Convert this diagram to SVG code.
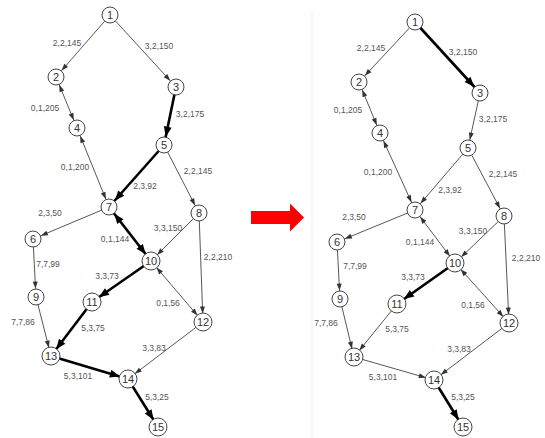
<svg xmlns="http://www.w3.org/2000/svg" width="545" height="438" viewBox="0 0 545 438">
<style>
.bg{fill:#ffffff}
.e{stroke:#444;stroke-width:0.9;fill:none}
.t{stroke:#000;stroke-width:2.6;fill:none}
.n circle{fill:#fff;stroke:#444;stroke-width:1}
.n text{font-family:"Liberation Sans",Arial,sans-serif;font-size:11px;fill:#333;text-anchor:middle}
.lb{font-family:"Liberation Sans",Arial,sans-serif;font-size:8.5px;fill:#555;text-anchor:middle}
</style>
<defs>
<marker id="a" markerUnits="userSpaceOnUse" markerWidth="20" markerHeight="10" refX="15.5" refY="2.5" orient="auto-start-reverse" overflow="visible"><path d="M0,0 L7,2.5 L0,5 z" fill="#333"/></marker>
<marker id="b" markerUnits="userSpaceOnUse" markerWidth="24" markerHeight="12" refX="18.5" refY="4" orient="auto-start-reverse" overflow="visible"><path d="M0,0 L10,4 L0,8 z" fill="#000"/></marker>
</defs>
<rect class="bg" width="545" height="438"/>
<line x1="312" y1="10" x2="312" y2="438" stroke="#eeeeee" stroke-width="1"/>
<g id="connectors">
<!-- left graph -->
<line class="e" x1="110" y1="15" x2="56" y2="77" marker-end="url(#a)"/>
<line class="e" x1="110" y1="15" x2="176" y2="87" marker-end="url(#a)"/>
<line class="e" x1="56" y1="77" x2="77" y2="128" marker-start="url(#a)" marker-end="url(#a)"/>
<line class="t" x1="176" y1="87" x2="164" y2="145" marker-end="url(#b)"/>
<line class="e" x1="77" y1="128" x2="109" y2="207" marker-start="url(#a)" marker-end="url(#a)"/>
<line class="t" x1="164" y1="145" x2="109" y2="207" marker-end="url(#b)"/>
<line class="e" x1="164" y1="145" x2="199" y2="213" marker-end="url(#a)"/>
<line class="e" x1="109" y1="207" x2="33" y2="239" marker-end="url(#a)"/>
<line class="t" x1="109" y1="207" x2="151" y2="261" marker-start="url(#b)" marker-end="url(#b)"/>
<line class="e" x1="199" y1="213" x2="151" y2="261" marker-end="url(#a)"/>
<line class="e" x1="199" y1="213" x2="203" y2="322" marker-end="url(#a)"/>
<line class="e" x1="33" y1="239" x2="36" y2="297" marker-end="url(#a)"/>
<line class="t" x1="151" y1="261" x2="92" y2="302" marker-end="url(#b)"/>
<line class="e" x1="151" y1="261" x2="203" y2="322" marker-start="url(#a)" marker-end="url(#a)"/>
<line class="e" x1="36" y1="297" x2="51" y2="356" marker-end="url(#a)"/>
<line class="t" x1="92" y1="302" x2="51" y2="356" marker-end="url(#b)"/>
<line class="e" x1="203" y1="322" x2="128" y2="379" marker-end="url(#a)"/>
<line class="t" x1="51" y1="356" x2="128" y2="379" marker-end="url(#b)"/>
<line class="t" x1="128" y1="379" x2="158" y2="427" marker-end="url(#b)"/>
<!-- right graph -->
<line class="e" x1="415" y1="22" x2="359" y2="82" marker-end="url(#a)"/>
<line class="t" x1="415" y1="22" x2="480" y2="93" marker-end="url(#b)"/>
<line class="e" x1="359" y1="82" x2="380" y2="133" marker-start="url(#a)" marker-end="url(#a)"/>
<line class="e" x1="480" y1="93" x2="468" y2="148" marker-end="url(#a)"/>
<line class="e" x1="380" y1="133" x2="415" y2="210" marker-start="url(#a)" marker-end="url(#a)"/>
<line class="e" x1="468" y1="148" x2="415" y2="210" marker-end="url(#a)"/>
<line class="e" x1="468" y1="148" x2="504" y2="216" marker-end="url(#a)"/>
<line class="e" x1="415" y1="210" x2="337" y2="242" marker-end="url(#a)"/>
<line class="e" x1="415" y1="210" x2="455" y2="263" marker-start="url(#a)" marker-end="url(#a)"/>
<line class="e" x1="504" y1="216" x2="455" y2="263" marker-end="url(#a)"/>
<line class="e" x1="504" y1="216" x2="509" y2="323" marker-end="url(#a)"/>
<line class="e" x1="337" y1="242" x2="340" y2="299" marker-end="url(#a)"/>
<line class="t" x1="455" y1="263" x2="397" y2="304" marker-end="url(#b)"/>
<line class="e" x1="455" y1="263" x2="509" y2="323" marker-start="url(#a)" marker-end="url(#a)"/>
<line class="e" x1="340" y1="299" x2="354" y2="357" marker-end="url(#a)"/>
<line class="e" x1="397" y1="304" x2="354" y2="357" marker-end="url(#a)"/>
<line class="e" x1="509" y1="323" x2="434" y2="380" marker-end="url(#a)"/>
<line class="e" x1="354" y1="357" x2="434" y2="380" marker-end="url(#a)"/>
<line class="t" x1="434" y1="380" x2="463" y2="427" marker-end="url(#b)"/>
</g>
<g id="labels">
<text class="lb" x="67" y="46">2,2,145</text>
<text class="lb" x="159" y="49">3,2,150</text>
<text class="lb" x="45" y="111">0,1,205</text>
<text class="lb" x="190" y="117">3,2,175</text>
<text class="lb" x="75" y="170">0,1,200</text>
<text class="lb" x="198" y="174">2,2,145</text>
<text class="lb" x="145" y="189">2,3,92</text>
<text class="lb" x="50" y="216">2,3,50</text>
<text class="lb" x="168" y="231">3,3,150</text>
<text class="lb" x="115" y="242">0,1,144</text>
<text class="lb" x="48" y="267">7,7,99</text>
<text class="lb" x="218" y="260">2,2,210</text>
<text class="lb" x="107" y="279">3,3,73</text>
<text class="lb" x="168" y="306">0,1,56</text>
<text class="lb" x="23" y="325">7,7,86</text>
<text class="lb" x="93" y="331">5,3,75</text>
<text class="lb" x="154" y="351">3,3,83</text>
<text class="lb" x="78" y="379">5,3,101</text>
<text class="lb" x="157" y="400">5,3,25</text>
<text class="lb" x="371" y="51">2,2,145</text>
<text class="lb" x="463" y="55">3,2,150</text>
<text class="lb" x="348" y="113">0,1,205</text>
<text class="lb" x="493" y="122">3,2,175</text>
<text class="lb" x="378" y="175">0,1,200</text>
<text class="lb" x="503" y="177">2,2,145</text>
<text class="lb" x="450" y="193">2,3,92</text>
<text class="lb" x="354" y="220">2,3,50</text>
<text class="lb" x="473" y="234">3,3,150</text>
<text class="lb" x="420" y="245">0,1,144</text>
<text class="lb" x="355" y="269">7,7,99</text>
<text class="lb" x="526" y="261">2,2,210</text>
<text class="lb" x="413" y="280">3,3,73</text>
<text class="lb" x="473" y="308">0,1,56</text>
<text class="lb" x="326" y="326">7,7,86</text>
<text class="lb" x="397" y="332">5,3,75</text>
<text class="lb" x="459" y="352">3,3,83</text>
<text class="lb" x="383" y="380">5,3,101</text>
<text class="lb" x="463" y="400">5,3,25</text>
</g>
<g id="L1" class="n"><circle cx="110" cy="15" r="8"/><text x="110" y="19">1</text></g>
<g id="L2" class="n"><circle cx="56" cy="77" r="8"/><text x="56" y="81">2</text></g>
<g id="L3" class="n"><circle cx="176" cy="87" r="8"/><text x="176" y="91">3</text></g>
<g id="L4" class="n"><circle cx="77" cy="128" r="8"/><text x="77" y="132">4</text></g>
<g id="L5" class="n"><circle cx="164" cy="145" r="8"/><text x="164" y="149">5</text></g>
<g id="L6" class="n"><circle cx="33" cy="239" r="8"/><text x="33" y="243">6</text></g>
<g id="L7" class="n"><circle cx="109" cy="207" r="8"/><text x="109" y="211">7</text></g>
<g id="L8" class="n"><circle cx="199" cy="213" r="8"/><text x="199" y="217">8</text></g>
<g id="L9" class="n"><circle cx="36" cy="297" r="8"/><text x="36" y="301">9</text></g>
<g id="L10" class="n"><circle cx="151" cy="261" r="9"/><text x="151" y="265">10</text></g>
<g id="L11" class="n"><circle cx="92" cy="302" r="9"/><text x="92" y="306">11</text></g>
<g id="L12" class="n"><circle cx="203" cy="322" r="9"/><text x="203" y="326">12</text></g>
<g id="L13" class="n"><circle cx="51" cy="356" r="9"/><text x="51" y="360">13</text></g>
<g id="L14" class="n"><circle cx="128" cy="379" r="9"/><text x="128" y="383">14</text></g>
<g id="L15" class="n"><circle cx="158" cy="427" r="9"/><text x="158" y="431">15</text></g>
<g id="R1" class="n"><circle cx="415" cy="22" r="8"/><text x="415" y="26">1</text></g>
<g id="R2" class="n"><circle cx="359" cy="82" r="8"/><text x="359" y="86">2</text></g>
<g id="R3" class="n"><circle cx="480" cy="93" r="8"/><text x="480" y="97">3</text></g>
<g id="R4" class="n"><circle cx="380" cy="133" r="8"/><text x="380" y="137">4</text></g>
<g id="R5" class="n"><circle cx="468" cy="148" r="8"/><text x="468" y="152">5</text></g>
<g id="R6" class="n"><circle cx="337" cy="242" r="8"/><text x="337" y="246">6</text></g>
<g id="R7" class="n"><circle cx="415" cy="210" r="8"/><text x="415" y="214">7</text></g>
<g id="R8" class="n"><circle cx="504" cy="216" r="8"/><text x="504" y="220">8</text></g>
<g id="R9" class="n"><circle cx="340" cy="299" r="8"/><text x="340" y="303">9</text></g>
<g id="R10" class="n"><circle cx="455" cy="263" r="9"/><text x="455" y="267">10</text></g>
<g id="R11" class="n"><circle cx="397" cy="304" r="9"/><text x="397" y="308">11</text></g>
<g id="R12" class="n"><circle cx="509" cy="323" r="9"/><text x="509" y="327">12</text></g>
<g id="R13" class="n"><circle cx="354" cy="357" r="9"/><text x="354" y="361">13</text></g>
<g id="R14" class="n"><circle cx="434" cy="380" r="9"/><text x="434" y="384">14</text></g>
<g id="R15" class="n"><circle cx="463" cy="427" r="9"/><text x="463" y="431">15</text></g>
<g id="arrow"><path d="M251,211 L290,211 L290,203.5 L304,217.5 L290,231.5 L290,224 L251,224 z" fill="#ff0000"/></g>
</svg>
